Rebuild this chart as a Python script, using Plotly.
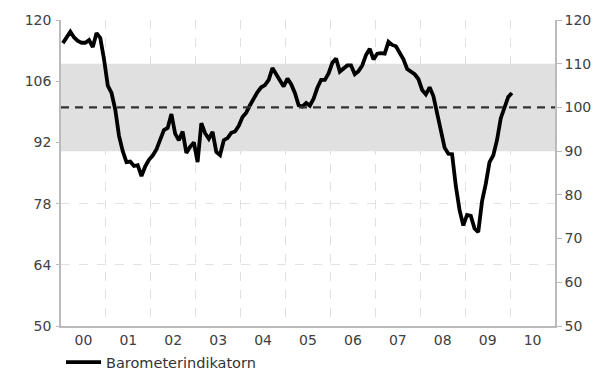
import plotly.graph_objects as go

# Monthly values, Jan 2000 .. Jan 2010
start_year = 2000
values = [
    114.7, 116.0, 117.3, 116.0, 115.2, 114.8, 114.8, 115.4, 113.8, 117.0, 115.9, 111.0,
    105.0, 103.3, 99.5, 93.5, 90.0, 87.5, 87.6, 86.6, 86.8, 84.3, 86.5, 88.0,
    89.0, 90.4, 92.5, 94.8, 95.3, 98.5, 94.0, 92.5, 94.5, 89.6, 91.0, 92.0,
    87.5, 96.4, 94.1, 92.8, 94.4, 89.8, 89.1, 92.5, 93.0, 94.2, 94.5, 95.8,
    97.8, 98.8, 100.5, 102.2, 103.5, 104.6, 105.1, 106.3, 109.0, 107.6, 106.0, 104.8,
    106.6, 105.3, 103.3, 100.5, 100.2, 101.0, 100.4, 102.0, 104.5, 106.3, 106.3, 107.8,
    110.2, 111.2, 108.2, 108.8, 109.6, 109.6, 107.6, 108.3, 109.6, 112.0, 113.4, 111.0,
    112.3, 112.4, 112.3, 115.0, 114.3, 114.0, 112.5, 111.0, 108.8, 108.3, 107.6, 106.5,
    104.0, 103.0, 104.6, 102.6, 98.3, 94.2, 90.8, 89.4, 89.3, 82.0, 76.5, 73.0,
    75.4, 75.2, 72.3, 71.5, 78.5, 82.5, 87.5, 89.0, 92.5, 97.5, 100.3, 102.4,
    103.3,
]
series_name = "Barometerindikatorn"
x_years = [start_year + (i + 0.5) / 12 for i in range(len(values))]

year_ticks = [2000.5 + k for k in range(11)]
year_labels = ["00", "01", "02", "03", "04", "05", "06", "07", "08", "09", "10"]
year_bounds = [2001 + k for k in range(10)]

left_ticks = [50, 64, 78, 92, 106, 120]
right_ticks = [50, 60, 70, 80, 90, 100, 110, 120]
band_low, band_high = 90, 110
reference_level = 100

fig = go.Figure()
fig.add_trace(go.Scatter(
    x=x_years, y=values, mode="lines", name=series_name,
    line=dict(color="black", width=3.8), yaxis="y",
))
# anchor trace so the right-hand axis is drawn
fig.add_trace(go.Scatter(
    x=x_years, y=values, mode="lines", yaxis="y2", showlegend=False,
    hoverinfo="skip", opacity=0, line=dict(color="black", width=0.1),
))

fig.add_shape(type="rect", xref="paper", yref="y2", x0=0, x1=1,
              y0=band_low, y1=band_high, fillcolor="#e0e0e0",
              line=dict(width=0), layer="below")
fig.add_shape(type="line", xref="paper", yref="y2", x0=0, x1=1,
              y0=reference_level, y1=reference_level,
              line=dict(color="#333333", width=2.2, dash="8px,6px"))

font_c = "#404040"
fig.update_layout(
    width=606, height=378,
    margin=dict(l=53, r=59, t=12, b=60, autoexpand=False),
    paper_bgcolor="white", plot_bgcolor="white",
    font=dict(family="DejaVu Sans", size=14, color=font_c),
    showlegend=True,
    legend=dict(orientation="h", x=0.0, y=-0.118, xanchor="left", yanchor="middle",
                font=dict(size=14.5, color="#333333"), itemwidth=35),
    xaxis=dict(range=[2000, 2011], tickvals=year_ticks, ticktext=year_labels,
               showgrid=False, showline=True, linecolor="#bbbbbb", linewidth=1.5,
               ticks="", zeroline=False, tickfont=dict(size=14, color=font_c),
               automargin=False,
               minor=dict(tickvals=year_bounds, showgrid=True, gridcolor="#e4dde2",
                          griddash="dash", gridwidth=1, ticks="")),
    yaxis=dict(range=[50, 120], tickvals=left_ticks, showgrid=True,
               gridcolor="#e2e2e2", griddash="dash", gridwidth=1,
               showline=True, linecolor="#bbbbbb", linewidth=1.5,
               ticks="outside", ticklen=3, tickcolor="#bbbbbb", automargin=False,
               ticklabelstandoff=2,
               zeroline=False, tickfont=dict(size=14, color=font_c)),
    yaxis2=dict(range=[50, 120], tickvals=right_ticks, overlaying="y", side="right",
                showgrid=False, showline=True, linecolor="#bbbbbb", linewidth=1.5,
                ticks="outside", ticklen=5, tickcolor="#bbbbbb", automargin=False,
                zeroline=False, tickfont=dict(size=14, color=font_c)),
)

fig.write_html("out.html")
